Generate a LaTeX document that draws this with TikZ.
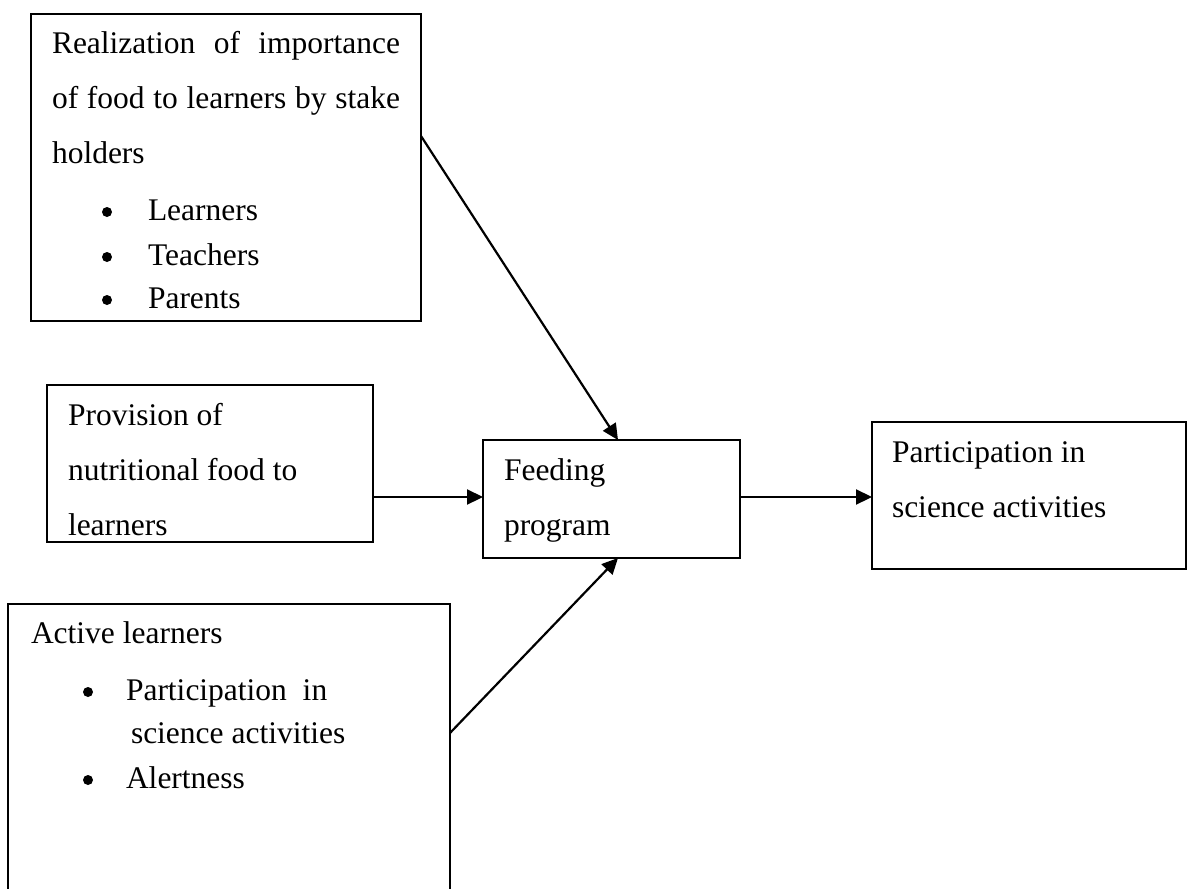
\documentclass[tikz,border=0pt]{standalone}
\usepackage{fontspec}
\setmainfont{Liberation Serif}
\usetikzlibrary{arrows.meta}
\tikzset{
  box/.style={draw, line width=2.2pt, inner sep=0pt, outer sep=0pt, anchor=north west},
  txt/.style={anchor=base west, inner sep=0pt, outer sep=0pt, font=\fontsize{31.5}{38}\selectfont},
  bul/.style={circle, fill, minimum size=10pt, inner sep=0pt},
  arr/.style={line width=2.2pt, -{Triangle[length=16pt,width=15pt]}}
}
\begin{document}
\begin{tikzpicture}[x=1pt,y=-1pt]
\clip (0,0) rectangle (1192,889);
\fill[white] (0,0) rectangle (1192,889);
% boxes
\node[box, minimum width=390pt, minimum height=307pt] (b1) at (31,14) {};
\node[box, minimum width=326pt, minimum height=157pt] (b2) at (47,385) {};
\node[box, minimum width=257pt, minimum height=118pt] (fd) at (483,440) {};
\node[box, minimum width=314pt, minimum height=147pt] (pp) at (872,422) {};
\node[box, minimum width=442pt, minimum height=300pt] (al) at (8,604) {};
% box 1 text
\node[txt] (t11) at (52,53) {\makebox[348pt][s]{Realization of importance}};
\node[txt] (t12) at (52,108) {\makebox[348pt][s]{of food to learners by stake}};
\node[txt] (t13) at (52,163) {holders};
\node[bul] (u14) at (107,212) {};
\node[txt] (t14) at (148,220) {Learners};
\node[bul] (u15) at (107,257) {};
\node[txt] (t15) at (148,265) {Teachers};
\node[bul] (u16) at (107,300) {};
\node[txt] (t16) at (148,308) {Parents};
% box 2 text
\node[txt] (t21) at (68,425) {Provision of};
\node[txt] (t22) at (68,480) {nutritional food to};
\node[txt] (t23) at (68,535) {learners};
% feeding
\node[txt] (t31) at (504,480) {Feeding};
\node[txt] (t32) at (504,535) {program};
% participation
\node[txt] (t41) at (892,462) {Participation in};
\node[txt] (t42) at (892,517) {science activities};
% active learners
\node[txt] (t51) at (31,643) {Active learners};
\node[bul] (u52) at (88,692) {};
\node[txt] (t52) at (126,700) {Participation\ \ in};
\node[txt] (t53) at (131,743) {science activities};
\node[bul] (u54) at (88,780) {};
\node[txt] (t54) at (126,788) {Alertness};
% connector end points
\coordinate (b1o) at ([yshift=31.5pt]b1.east);
\coordinate (fdn) at ([xshift=6.5pt]fd.north);
\coordinate (fds) at ([xshift=6.5pt]fd.south);
\coordinate (fdw) at ([yshift=2pt]fd.west);
\coordinate (fde) at ([yshift=2pt]fd.east);
\coordinate (alo) at ([yshift=-129pt]al.north east);
% arrows
\draw[arr] (b1o) -- (fdn);
\draw[arr] (b2.east |- fdw) -- (fdw);
\draw[arr] (alo) -- (fds);
\draw[arr] (fde) -- (pp.west |- fde);
\end{tikzpicture}
\end{document}
